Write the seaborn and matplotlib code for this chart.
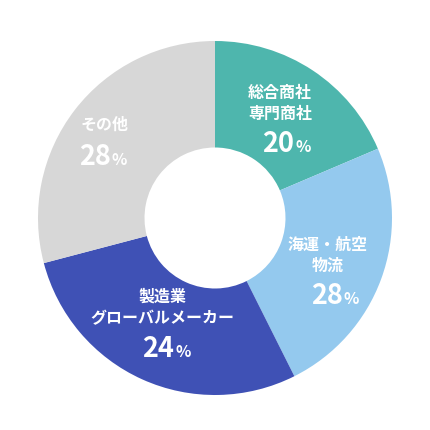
import matplotlib
matplotlib.use("Agg")
import matplotlib.pyplot as plt
import seaborn as sns

# Data
categories = ["総合商社\n専門商社", "海運・航空\n物流", "製造業\nグローバルメーカー", "その他"]
wedge_shares = [18.6, 24.0, 28.3, 29.1]      # drawn wedge sizes
pct_labels = ["20", "28", "24", "28"]          # printed percentages
colors = ["#4EB6AD", "#94C9EE", "#3F51B5", "#D7D7D7"]

sns.set_theme(style="white")
plt.rcParams['font.family'] = ['Noto Sans CJK JP', 'DejaVu Sans']

W = 430
fig = plt.figure(figsize=(4.3, 4.3), dpi=100)
ax = fig.add_axes([0, 0, 1, 1])

cx, cy, R, r_in = 215, W - 218, 177, 70.5
ax.pie(wedge_shares, colors=sns.color_palette(colors), startangle=90, counterclock=False,
       center=(cx, cy), radius=R, wedgeprops=dict(width=R - r_in, linewidth=0),
       frame=True)
ax.set_xlim(0, W)
ax.set_ylim(0, W)
ax.set_aspect('equal')
ax.axis('off')

# label positions in image coords
label_pos = [(280, 93), (327.5, 245), (162.5, 297), (104.5, 125)]
pct_pos = [(294, 152), (343, 304), (174, 357), (111, 165)]
line_gap = 21

for cat, (lx, ly), (px, py), p in zip(categories, label_pos, pct_pos, pct_labels):
    lines = cat.split("\n")
    for i, ln in enumerate(lines):
        ax.text(lx, W - (ly + i * line_gap), ln, ha='center', va='center',
                color='white', fontsize=11.5, fontweight='bold')
    ax.text(px, W - py, p, ha='right', va='baseline', color='white',
            fontsize=19.5, fontweight='bold')
    ax.text(px + 1, W - py, "%", ha='left', va='baseline', color='white',
            fontsize=11.5, fontweight='bold')

fig.savefig("out.png", dpi=100, facecolor='white')
